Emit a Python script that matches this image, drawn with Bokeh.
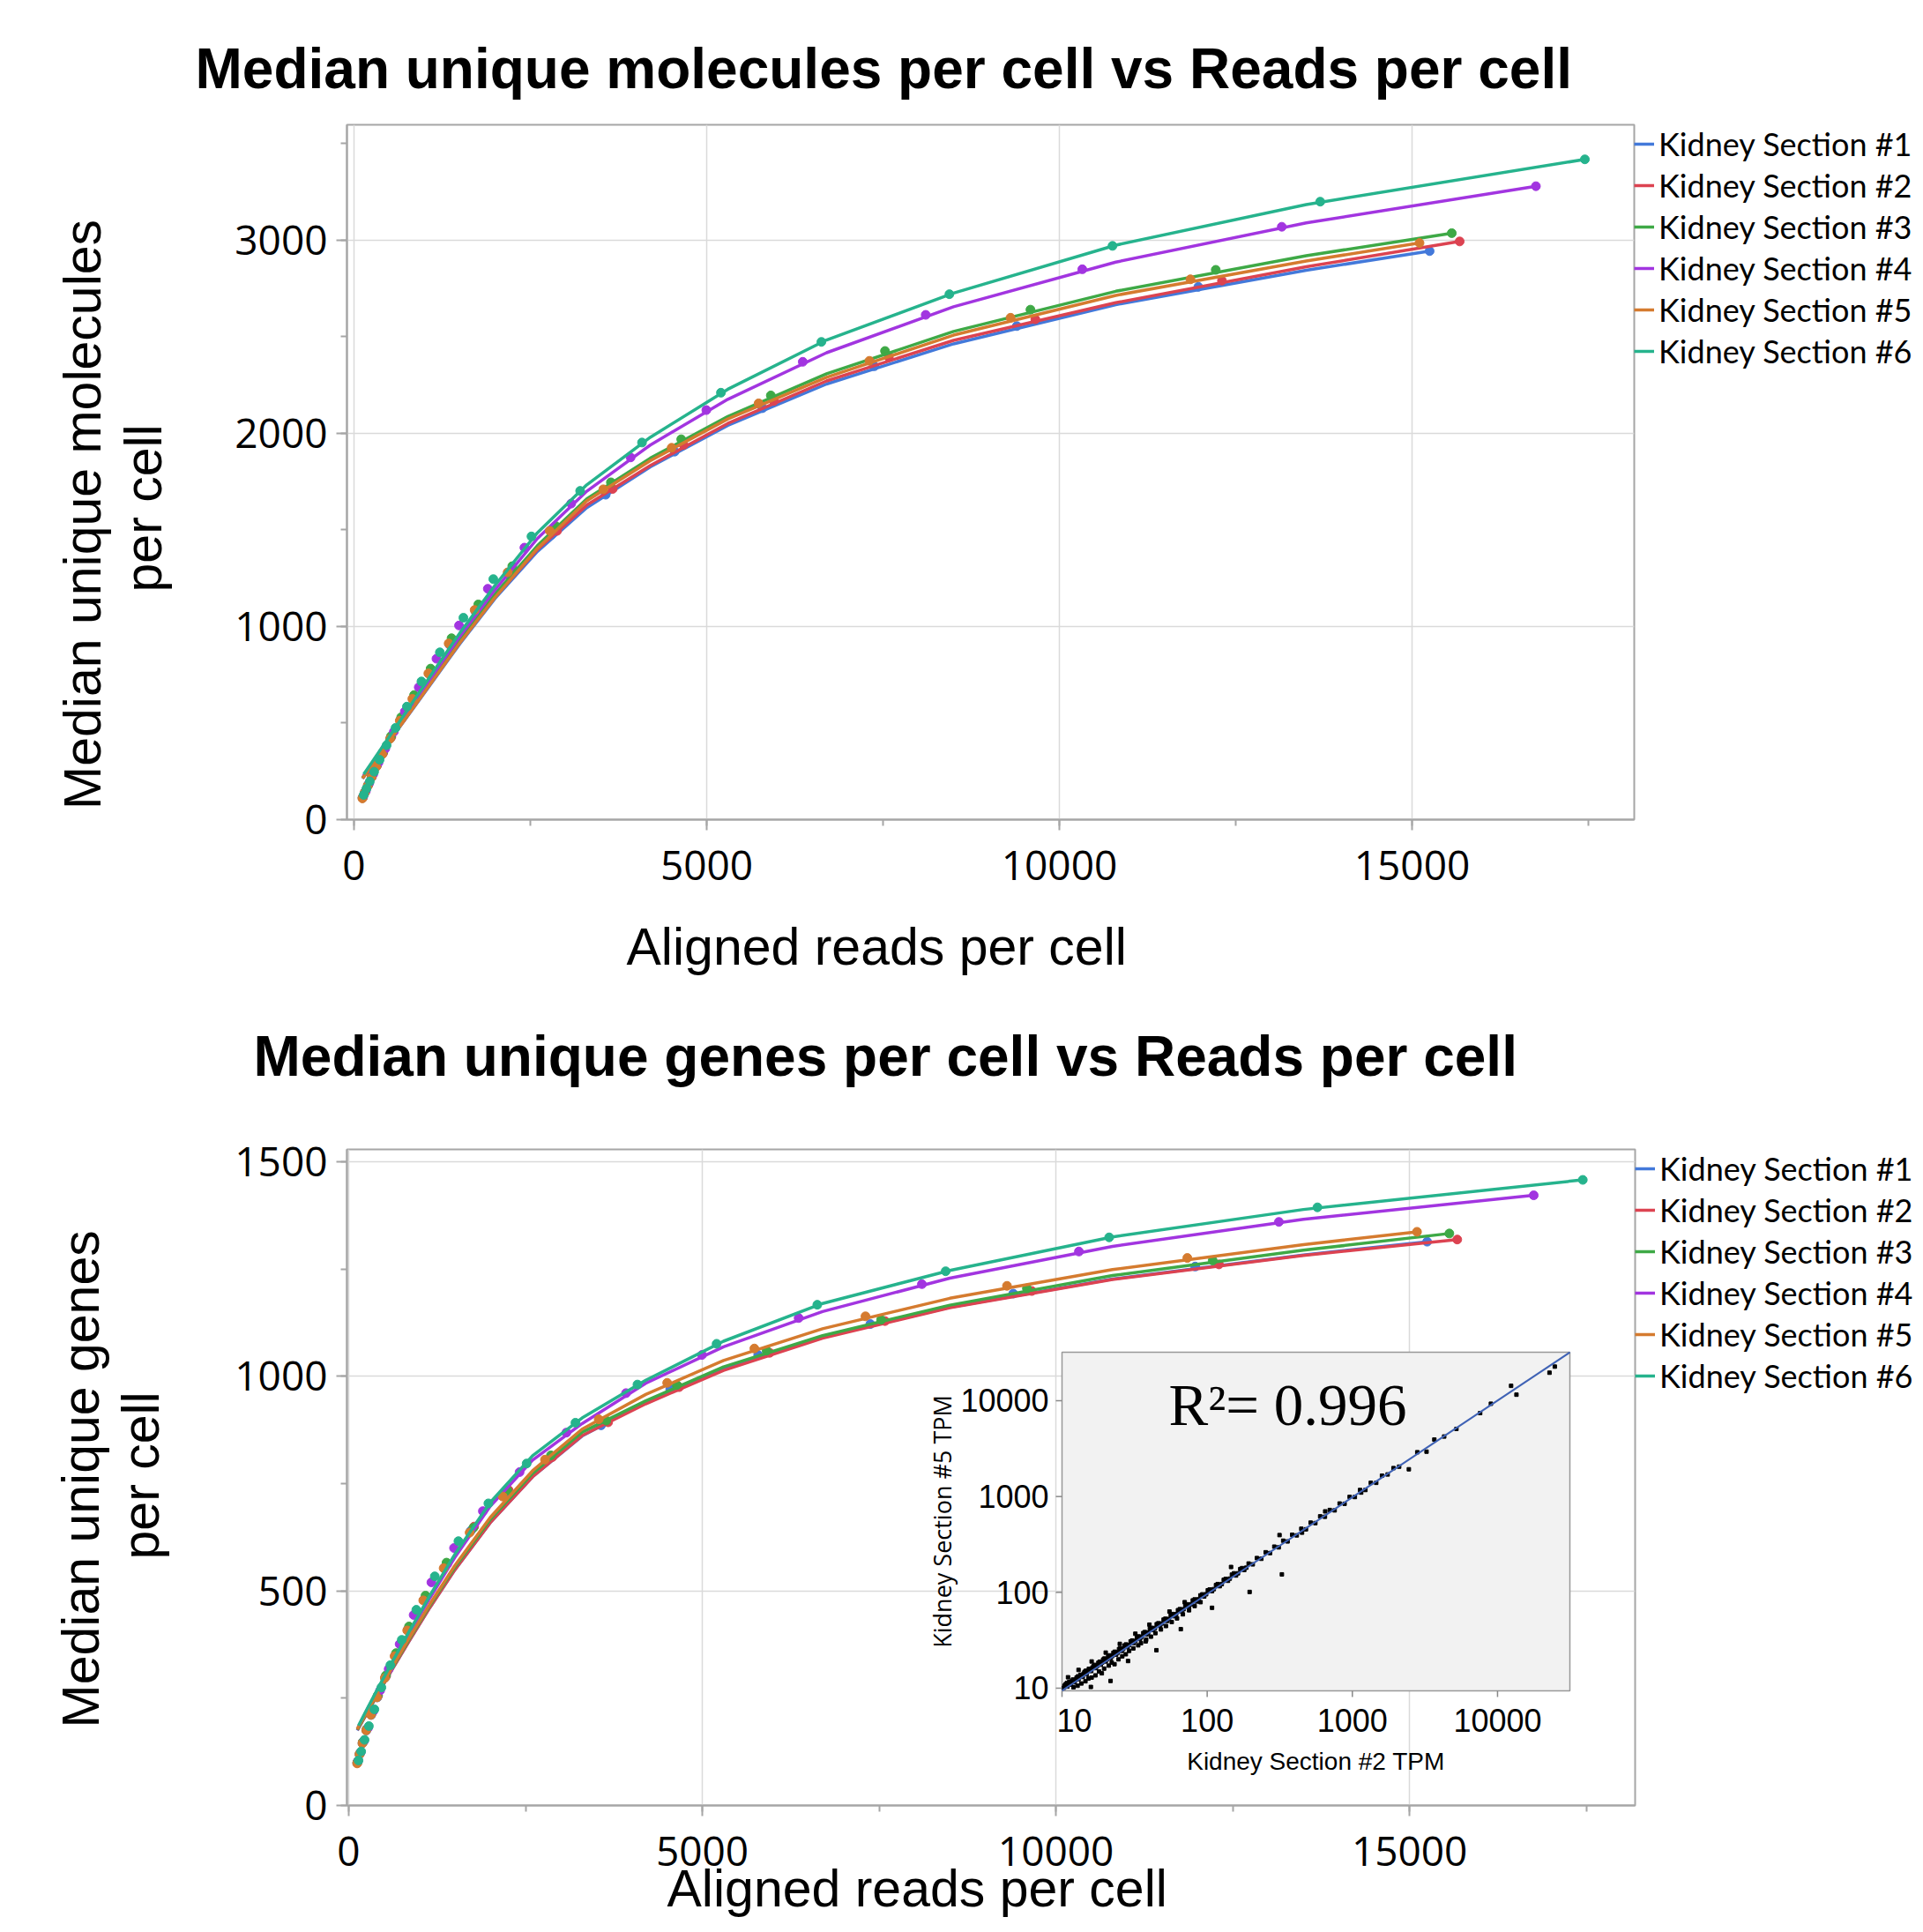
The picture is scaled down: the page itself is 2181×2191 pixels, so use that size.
import math
from bokeh.plotting import figure
from bokeh.layouts import column
from bokeh.models import Range1d, LogScale, SingleIntervalTicker, Legend, LegendItem, Title
from bokeh.embed import file_html
from bokeh.resources import INLINE
from bokeh.core.properties import value

# ---------------- data ----------------
SECTIONS = ["Kidney Section #1", "Kidney Section #2", "Kidney Section #3",
            "Kidney Section #4", "Kidney Section #5", "Kidney Section #6"]
COLORS = ["#4379da", "#dc4351", "#3ea946", "#a235e0", "#d57b2f", "#26b38d"]

# aligned reads per cell (x) for each downsampling point
READS_1 = [15249, 11970, 9397, 7376, 5790, 4546, 3568, 2801, 2199, 1726, 1355, 1064, 835, 655, 515, 404, 317, 249, 195, 153, 120]
READS_2 = [15675, 12305, 9659, 7582, 5952, 4673, 3668, 2879, 2260, 1774, 1393, 1093, 858, 674, 529, 415, 326, 256, 201, 158, 124]
READS_3 = [15563, 12217, 9590, 7528, 5909, 4639, 3642, 2859, 2244, 1762, 1383, 1086, 852, 669, 525, 412, 324, 254, 199, 157, 123]
READS_4 = [16756, 13153, 10325, 8105, 6362, 4995, 3921, 3078, 2416, 1897, 1489, 1169, 918, 720, 565, 444, 348, 273, 215, 169, 132]
READS_5 = [15106, 11858, 9308, 7307, 5736, 4503, 3535, 2775, 2178, 1710, 1342, 1054, 827, 649, 510, 400, 314, 247, 194, 152, 119]
READS_6 = [17450, 13698, 10753, 8441, 6626, 5202, 4083, 3206, 2516, 1975, 1551, 1217, 956, 750, 589, 462, 363, 285, 224, 176, 138]

# median unique molecules per cell
MOL_1 = [2943, 2758, 2555, 2347, 2130, 1905, 1682, 1475, 1265, 1075, 905, 755, 625, 515, 420, 340, 275, 220, 175, 140, 112]
MOL_2 = [2993, 2790, 2590, 2394, 2167, 1940, 1712, 1495, 1285, 1093, 920, 768, 635, 522, 428, 346, 280, 224, 179, 143, 115]
MOL_3 = [3036, 2846, 2640, 2426, 2196, 1969, 1746, 1520, 1312, 1114, 939, 782, 645, 530, 432, 350, 283, 227, 180, 144, 115]
MOL_4 = [3279, 3069, 2849, 2613, 2370, 2120, 1875, 1636, 1408, 1195, 1005, 833, 685, 559, 455, 368, 296, 236, 188, 150, 120]
MOL_5 = [2985, 2797, 2598, 2375, 2155, 1925, 1710, 1495, 1280, 1085, 912, 757, 625, 512, 418, 338, 273, 219, 174, 139, 110]
MOL_6 = [3418, 3199, 2970, 2720, 2473, 2210, 1952, 1702, 1466, 1245, 1045, 866, 715, 585, 475, 385, 310, 248, 198, 160, 128]

# median unique genes per cell
GEN_1 = [1314, 1256, 1193, 1122, 1050, 970, 886, 805, 725, 640, 555, 480, 410, 349, 298, 252, 211, 175, 145, 119, 99]
GEN_2 = [1319, 1261, 1199, 1129, 1055, 975, 893, 812, 735, 650, 563, 487, 416, 354, 302, 256, 215, 178, 148, 121, 101]
GEN_3 = [1333, 1270, 1205, 1132, 1060, 980, 897, 816, 734, 647, 566, 489, 417, 355, 303, 257, 215, 178, 148, 121, 101]
GEN_4 = [1422, 1360, 1291, 1215, 1136, 1050, 961, 869, 777, 686, 600, 520, 444, 376, 318, 268, 220, 181, 150, 124, 104]
GEN_5 = [1337, 1276, 1211, 1140, 1065, 985, 900, 806, 720, 636, 553, 478, 408, 348, 297, 252, 211, 175, 145, 119, 98]
GEN_6 = [1458, 1394, 1324, 1245, 1167, 1076, 981, 892, 797, 704, 616, 534, 456, 386, 327, 275, 224, 185, 153, 126, 105]

# fitted curves
FIT_READS_1 = [120, 250, 400, 600, 850, 1150, 1500, 2000, 2600, 3300, 4200, 5300, 6700, 8500, 10800, 13500, 15249]
FIT_READS_2 = [124, 250, 400, 600, 850, 1150, 1500, 2000, 2600, 3300, 4200, 5300, 6700, 8500, 10800, 13500, 15675]
FIT_READS_3 = [123, 250, 400, 600, 850, 1150, 1500, 2000, 2600, 3300, 4200, 5300, 6700, 8500, 10800, 13500, 15563]
FIT_READS_4 = [132, 250, 400, 600, 850, 1150, 1500, 2000, 2600, 3300, 4200, 5300, 6700, 8500, 10800, 13500, 16756]
FIT_READS_5 = [119, 250, 400, 600, 850, 1150, 1500, 2000, 2600, 3300, 4200, 5300, 6700, 8500, 10800, 13500, 15106]
FIT_READS_6 = [138, 250, 400, 600, 850, 1150, 1500, 2000, 2600, 3300, 4200, 5300, 6700, 8500, 10800, 13500, 17450]

FIT_MOL_1 = [212, 278, 354, 455, 581, 733, 910, 1145, 1388, 1615, 1826, 2041, 2255, 2463, 2666, 2844, 2943]
FIT_MOL_2 = [215, 280, 357, 459, 586, 739, 917, 1153, 1398, 1628, 1833, 2051, 2271, 2481, 2676, 2862, 2993]
FIT_MOL_3 = [218, 284, 362, 465, 594, 749, 929, 1168, 1418, 1660, 1871, 2087, 2308, 2527, 2735, 2919, 3036]
FIT_MOL_4 = [225, 290, 370, 475, 607, 765, 948, 1190, 1455, 1700, 1939, 2176, 2417, 2655, 2886, 3089, 3279]
FIT_MOL_5 = [213, 279, 355, 457, 584, 737, 915, 1151, 1404, 1650, 1858, 2074, 2290, 2508, 2714, 2892, 2985]
FIT_MOL_6 = [235, 295, 376, 483, 618, 780, 966, 1213, 1485, 1733, 1979, 2228, 2483, 2726, 2974, 3184, 3418]

FIT_GEN_1 = [175, 213, 256, 313, 382, 462, 549, 659, 766, 861, 940, 1018, 1091, 1161, 1227, 1283, 1314]
FIT_GEN_2 = [176, 213, 256, 313, 382, 462, 549, 659, 766, 862, 936, 1014, 1089, 1160, 1226, 1282, 1319]
FIT_GEN_3 = [177, 215, 258, 316, 386, 467, 555, 666, 774, 870, 943, 1022, 1095, 1166, 1235, 1294, 1333]
FIT_GEN_4 = [182, 220, 266, 326, 399, 484, 578, 697, 805, 890, 984, 1069, 1151, 1229, 1303, 1366, 1422]
FIT_GEN_5 = [178, 216, 260, 318, 389, 470, 559, 671, 780, 877, 958, 1037, 1111, 1182, 1249, 1307, 1337]
FIT_GEN_6 = [186, 222, 269, 330, 404, 490, 585, 706, 815, 903, 991, 1082, 1170, 1247, 1325, 1389, 1458]

# inset: gene TPM, Kidney Section #2 (x) vs Kidney Section #5 (y)
INSET_TPM = [
    (10.3, 10.1), (10.6, 11.0), (10.9, 10.4), (11.2, 11.6), (11.5, 10.9), (11.9, 12.3), (12.2, 11.5),
    (12.6, 12.9), (13.0, 12.4), (13.4, 13.8), (13.9, 13.1), (14.3, 14.8), (14.8, 14.0), (15.3, 15.9),
    (15.9, 15.1), (16.5, 17.0), (17.1, 16.2), (17.8, 18.4), (18.5, 17.6), (19.2, 19.9), (20.0, 19.0),
    (20.8, 21.5), (21.7, 20.6), (22.6, 23.4), (23.6, 22.4), (24.7, 25.6), (25.8, 24.5), (27.0, 27.9),
    (28.3, 26.9), (29.7, 30.7), (31.2, 29.6), (32.8, 33.9), (34.5, 32.8), (36.3, 37.6), (38.2, 36.3),
    (40.3, 41.7), (42.5, 40.4), (44.9, 46.5), (47.4, 45.0), (50.1, 51.9), (53.0, 50.3), (56.1, 58.1),
    (59.4, 56.4), (62.9, 65.1), (66.7, 63.4), (70.7, 73.2), (75.0, 71.2), (79.6, 82.4), (84.5, 80.3),
    (89.8, 93.0), (95.4, 90.6), (101, 105), (108, 103), (115, 119), (122, 116), (130, 135), (139, 132),
    (148, 153), (158, 150), (169, 175), (180, 171), (193, 200), (206, 196), (220, 228), (236, 224),
    (253, 262), (271, 257), (290, 300), (311, 295), (334, 346), (358, 340), (385, 399), (414, 393),
    (445, 461), (479, 455), (516, 534), (556, 528), (600, 621), (647, 615), (699, 724), (755, 717),
    (817, 846), (884, 840), (958, 992), (1040, 988), (1130, 1170), (1230, 1170), (1340, 1390),
    (1460, 1390), (1600, 1650), (1750, 1700), (1920, 1980), (2100, 2050), (2800, 2900), (9000, 9300),
    (10.4, 10.6), (10.8, 11.3), (11.3, 11.2), (11.7, 11.9), (12.4, 12.2), (12.9, 13.3), (13.7, 13.4),
    (14.1, 14.2), (14.6, 15.2), (15.6, 15.4), (16.2, 16.4), (16.8, 17.5), (17.5, 17.1), (18.2, 18.9),
    (18.9, 18.5), (19.6, 20.4), (20.4, 20.0), (21.3, 22.0), (22.2, 21.7), (23.1, 24.0), (24.2, 23.5),
    (25.2, 26.1), (26.4, 25.7), (27.6, 28.6), (29.0, 28.2), (30.4, 31.4), (32.0, 31.1), (33.6, 34.7),
    (35.4, 34.4), (37.2, 38.5), (39.2, 38.0), (41.4, 42.6), (43.7, 42.4), (46.1, 47.6), (48.7, 47.3),
    (51.5, 53.0), (54.5, 52.8), (57.7, 59.4), (61.1, 59.2), (64.8, 66.8), (68.7, 66.6), (72.8, 75.0),
    (77.3, 75.1), (82.0, 84.4), (87.1, 84.6), (92.6, 95.3), (98.3, 95.6), (104, 107), (111, 108),
    (118, 122), (126, 122), (134, 138), (143, 139), (153, 158), (163, 158), (174, 179), (186, 181),
    (12.0, 10.2), (12.8, 10.6), (13.6, 11.2), (14.5, 11.8), (15.2, 12.6), (16.0, 12.9), (17.0, 13.6),
    (18.0, 14.9), (18.8, 14.3), (19.5, 16.0), (21.0, 17.2), (22.0, 18.5), (23.0, 17.8), (24.5, 20.0),
    (26.0, 21.5), (27.5, 22.6), (29.0, 24.5), (31.0, 26.0), (33.5, 28.0), (35.0, 29.5), (38.0, 32.0),
    (41.0, 34.5), (44.0, 37.5), (48.0, 41.0), (52.0, 44.5), (57.0, 49.0), (62.0, 53.5), (68.0, 59.0),
    (75, 65), (82, 72), (90, 79), (11, 13), (13, 15.5), (16, 19), (20, 23.5), (25, 29), (32, 37),
    (40, 46), (55, 63), (70, 79), (15.8, 10.3), (21.6, 11.9), (28.5, 19.2), (37.7, 30.8), (44.7, 24.9),
    (65.8, 41.3), (108, 69), (146, 184), (196, 101), (315, 396), (327, 154), (650, 700), (450, 420),
    (1150, 1100), (2450, 1925), (3243, 2940), (3670, 3930), (4290, 4230), (5210, 5080), (7590, 7430),
    (12400, 14300), (13500, 11560), (22800, 19600), (24800, 22700),
]
INSET_FIT_X = [10, 31500]
INSET_FIT_Y = [9.4, 32000]
INSET_TICKS = [10, 100, 1000, 10000]
INSET_TICK_LABELS = ["10", "100", "1000", "10000"]

READS = [READS_1, READS_2, READS_3, READS_4, READS_5, READS_6]
MOLS = [MOL_1, MOL_2, MOL_3, MOL_4, MOL_5, MOL_6]
GENS = [GEN_1, GEN_2, GEN_3, GEN_4, GEN_5, GEN_6]
FIT_READS = [FIT_READS_1, FIT_READS_2, FIT_READS_3, FIT_READS_4, FIT_READS_5, FIT_READS_6]
FIT_MOLS = [FIT_MOL_1, FIT_MOL_2, FIT_MOL_3, FIT_MOL_4, FIT_MOL_5, FIT_MOL_6]
FIT_GENS = [FIT_GEN_1, FIT_GEN_2, FIT_GEN_3, FIT_GEN_4, FIT_GEN_5, FIT_GEN_6]

# ---------------- styling / layout ----------------
AXIS_GRAY = "#a6a6a6"
GRID_GRAY = "#dadada"
TICK_FONT = "Open Sans"
LABEL_FONT = "Liberation Sans"


def make_chart(frame_w, frame_h, xr, yr, y_interval, mins, ydata, yfits):
    p = figure(frame_width=frame_w, frame_height=frame_h,
               x_range=Range1d(*xr), y_range=Range1d(*yr),
               output_backend="svg", toolbar_location=None,
               min_border_left=mins[0], min_border_right=mins[1],
               min_border_top=mins[2], min_border_bottom=mins[3],
               background_fill_color="white", border_fill_color="white",
               outline_line_color=AXIS_GRAY, outline_line_width=2)
    p.xaxis.ticker = SingleIntervalTicker(interval=5000, num_minor_ticks=2)
    p.yaxis.ticker = SingleIntervalTicker(interval=y_interval, num_minor_ticks=2)
    for ax in (p.xaxis[0], p.yaxis[0]):
        ax.axis_line_color = AXIS_GRAY
        ax.axis_line_width = 2
        ax.major_tick_line_color = AXIS_GRAY
        ax.major_tick_line_width = 2
        ax.minor_tick_line_color = AXIS_GRAY
        ax.minor_tick_line_width = 2
        ax.major_tick_in = 0
        ax.major_tick_out = 12
        ax.minor_tick_in = 0
        ax.minor_tick_out = 7
        ax.major_label_text_font = TICK_FONT
        ax.major_label_text_font_size = "46px"
        ax.major_label_text_color = "black"
    p.xaxis[0].major_label_standoff = 23
    p.yaxis[0].major_label_standoff = 10
    for g in (p.xgrid[0], p.ygrid[0]):
        g.grid_line_color = GRID_GRAY
        g.grid_line_width = 1.5

    items = []
    for i in range(6):
        p.scatter(READS[i], ydata[i], size=10, color=COLORS[i])
        r = p.line(FIT_READS[i], yfits[i], line_width=3.5, color=COLORS[i])
        items.append(LegendItem(label=SECTIONS[i], renderers=[r]))
    leg = Legend(items=items, location="top_left",
                 label_text_font="Lato", label_text_font_size="36px",
                 label_text_color="black", glyph_width=23, glyph_height=20,
                 label_height=20, label_standoff=5, padding=4, spacing=3,
                 margin=0, border_line_color=None, background_fill_alpha=0)
    p.add_layout(leg, "right")
    return p


def add_title(p, side, text, size, offset=0.0, standoff=0.0, valign="bottom", bold=False):
    t = Title(text=text, align="left", offset=offset, vertical_align=valign,
              text_font=LABEL_FONT, text_font_size=f"{size}px",
              text_font_style="bold" if bold else "normal", text_color="black")
    try:
        t.standoff = standoff
    except Exception:
        t.standoff = 0
    p.add_layout(t, side)


def add_spacer(p, side, thickness):
    # an invisible blank title that only reserves room in a side panel
    add_title(p, side, " ", 2, offset=300, standoff=max(thickness - 4.2, 0.0))


# ---- top chart: frame at page x 393..1853, y 140..928 ----
p1 = make_chart(1460, 788, (-100, 18150), (0, 3597), 1000, (393, 328, 140, 308), MOLS, FIT_MOLS)
add_title(p1, "above", "Median unique molecules per cell vs Reads per cell", 64,
          offset=-172, standoff=55, valign="bottom", bold=True)
add_spacer(p1, "above", 11.6)
add_spacer(p1, "left", 68.3)
add_title(p1, "left", "per cell", 59, offset=258, standoff=0, valign="bottom")
add_title(p1, "left", "Median unique molecules", 59, offset=11.5, standoff=2, valign="bottom")
add_spacer(p1, "left", 50)
add_spacer(p1, "below", 40)
add_title(p1, "below", "Aligned reads per cell", 59, offset=317, standoff=0, valign="top")
add_spacer(p1, "below", 52.5)
add_title(p1, "below", "Median unique genes per cell vs Reads per cell", 64,
          offset=-106, standoff=0, valign="top", bold=True)

# ---- bottom chart: frame at page x 393..1854, y 1302..2046 ----
p2 = make_chart(1461, 744, (-25, 18190), (0, 1529), 500, (393, 327, 66, 145), GENS, FIT_GENS)
add_spacer(p2, "left", 71)
add_title(p2, "left", "per cell", 59, offset=279, standoff=0, valign="bottom")
add_title(p2, "left", "Median unique genes", 59, offset=88, standoff=0, valign="bottom")
add_spacer(p2, "left", 26)
add_spacer(p2, "below", 18)
add_title(p2, "below", "Aligned reads per cell", 59, offset=363, standoff=-54.6, valign="top")

# ---------------- inset (log-log scatter) on extra log ranges ----------------
FRAME2_PX = (393, 1854, 1302, 2046)     # left, right, top, bottom (page px)
INSET_PX = (1204, 1780, 1532, 1916)     # inset frame (page px)
INSET_XR = (10, 31500)
INSET_YR = (9.38, 32070)

dx = math.log10(INSET_XR[1] / INSET_XR[0]) / (INSET_PX[1] - INSET_PX[0])
dy = math.log10(INSET_YR[1] / INSET_YR[0]) / (INSET_PX[3] - INSET_PX[2])
x_lo = 10 ** (math.log10(INSET_XR[0]) - (INSET_PX[0] - FRAME2_PX[0]) * dx)
x_hi = 10 ** (math.log10(INSET_XR[1]) + (FRAME2_PX[1] - INSET_PX[1]) * dx)
y_lo = 10 ** (math.log10(INSET_YR[0]) - (FRAME2_PX[3] - INSET_PX[3]) * dy)
y_hi = 10 ** (math.log10(INSET_YR[1]) + (INSET_PX[2] - FRAME2_PX[2]) * dy)
p2.extra_x_ranges = {"tpm_x": Range1d(x_lo, x_hi)}
p2.extra_y_ranges = {"tpm_y": Range1d(y_lo, y_hi)}
p2.extra_x_scales = {"tpm_x": LogScale()}
p2.extra_y_scales = {"tpm_y": LogScale()}
R = dict(x_range_name="tpm_x", y_range_name="tpm_y")

p2.quad(left=INSET_XR[0], right=INSET_XR[1], bottom=INSET_YR[0], top=INSET_YR[1],
        fill_color="#f2f2f2", line_color="#999999", line_width=1.5, **R)
tx = [a for a, b in INSET_TPM]
ty = [b for a, b in INSET_TPM]
p2.scatter(tx, ty, marker="square", size=4, color="black", **R)
p2.line(INSET_FIT_X, INSET_FIT_Y, line_width=2, color="#3f62b5", **R)

yb = INSET_YR[0]
xl = INSET_XR[0]
p2.segment(x0=INSET_TICKS, y0=[yb] * 4, x1=INSET_TICKS, y1=[yb / 10 ** (7 * dy)] * 4,
           line_color="#888888", line_width=1.5, **R)
p2.segment(x0=[xl] * 4, y0=INSET_TICKS, x1=[xl / 10 ** (7 * dx)] * 4, y1=INSET_TICKS,
           line_color="#888888", line_width=1.5, **R)

p2.text(x=INSET_TICKS[1:], y=[yb] * 3, text=INSET_TICK_LABELS[1:], text_align="center",
        text_baseline="middle", y_offset=33, text_font=value("Liberation Sans"),
        text_font_size="36px", text_color="black", **R)
p2.text(x=INSET_TICKS[:1], y=[yb], text=INSET_TICK_LABELS[:1], text_align="center",
        text_baseline="middle", x_offset=14, y_offset=33, text_font=value("Liberation Sans"),
        text_font_size="36px", text_color="black", **R)
p2.text(x=[xl] * 4, y=INSET_TICKS, text=INSET_TICK_LABELS, text_align="right",
        text_baseline="middle", x_offset=-15, text_font=value("Liberation Sans"),
        text_font_size="36px", text_color="black", **R)
p2.text(x=[math.sqrt(INSET_XR[0] * INSET_XR[1])], y=[yb], text=["Kidney Section #2 TPM"],
        text_align="center", text_baseline="middle", y_offset=80,
        text_font=value("Liberation Sans"), text_font_size="28px", text_color="black", **R)
p2.text(x=[xl], y=[math.sqrt(INSET_YR[0] * INSET_YR[1])], text=["Kidney Section #5 TPM"],
        angle=math.pi / 2, text_align="center", text_baseline="middle", x_offset=-136,
        text_font=value("Open Sans"), text_font_size="27px", text_color="black", **R)
p2.text(x=[xl], y=[INSET_YR[1]], text=["R\u00b2= 0.996"], text_align="center",
        text_baseline="middle", x_offset=256, y_offset=59,
        text_font=value("Liberation Serif"), text_font_size="67px", text_color="black", **R)

layout = column(p1, p2)
open("out.html", "w").write(file_html(layout, INLINE))
